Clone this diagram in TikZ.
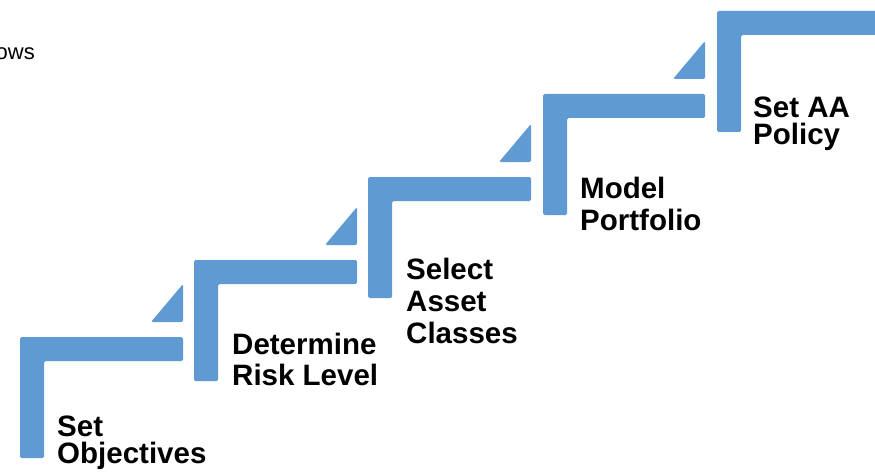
\documentclass[tikz,border=0pt]{standalone}
\usepackage{fontspec}
\setmainfont{Liberation Sans}
\definecolor{stepblue}{RGB}{95,155,210}

\begin{document}
\begin{tikzpicture}[
    x=1pt, y=-1pt,
    stair/.style={fill=stepblue, rounded corners=1.5pt},
    steptext/.style={anchor=base west, inner sep=0pt, align=left,
        font=\bfseries\fontsize{29.5}{32}\selectfont}
]
    \useasboundingbox (0,0) rectangle (875,476);
    \clip (0,0) rectangle (875,476);

    % the stairs, bottom left to top right
    \foreach \L/\T/\R in {20/337/183, 194/260/357, 368/177/531, 543/94/705, 717/11/900}{
        \fill[stair] (\L,\T+121) -- (\L,\T) -- (\R,\T) -- (\R,\T+24)
            -- (\L+24,\T+24) -- (\L+24,\T+121) -- cycle;
        \fill[stair] (\R-32,\T-15) -- (\R,\T-15) -- (\R,\T-53) -- cycle;
    }

    \node[anchor=base east, inner sep=0pt, font=\fontsize{22}{26}\selectfont] (title) at (35,60) {ows};

    % base anchor sits on the last line
    \node[steptext] (objectives) at (57,463) {Set\\[-5pt]Objectives};
    \node[steptext] (risk) at (232,385) {Determine\\[-1pt]Risk Level};
    \node[steptext] (assets) at (406,343) {Select\\Asset\\Classes};
    \node[steptext] (model) at (580,230) {Model\\Portfolio};
    \node[steptext] (policy) at (753,145) {Set AA\\[-4pt]Policy};
\end{tikzpicture}
\end{document}
